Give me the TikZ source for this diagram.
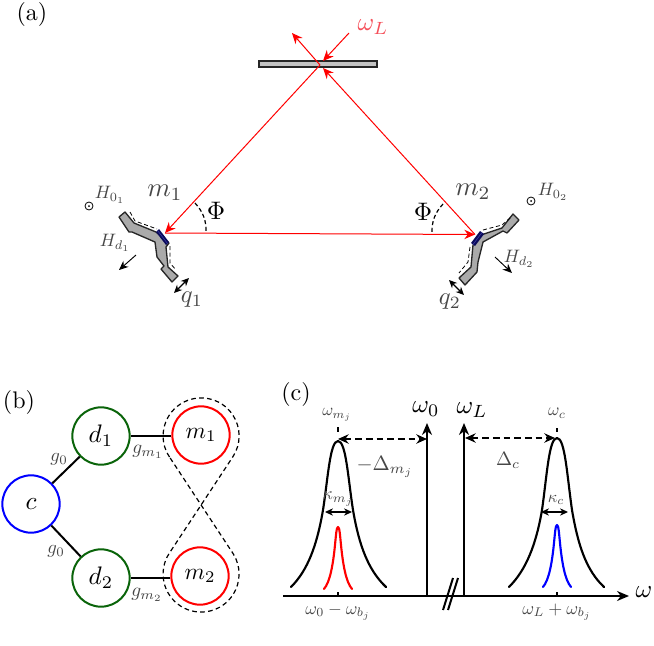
\documentclass[tikz,border=0pt]{standalone}
\usepackage{graphicx}
\usetikzlibrary{arrows.meta}
\definecolor{mgreen}{RGB}{10,100,10}
\definecolor{mnavy}{RGB}{10,10,90}
\definecolor{lblue}{RGB}{60,60,170}
\definecolor{lred}{RGB}{245,80,90}
\definecolor{mgrey}{RGB}{170,170,170}
\definecolor{barfill}{RGB}{195,195,195}
\tikzset{
  x=0.75pt,y=-0.75pt,
  lbl/.style={inner sep=0pt,outer sep=0pt,scale=#1},
  soft/.style={text=black!72},
  beam/.style={red,line width=0.75pt},
  beamtip/.style={-{Stealth[length=8pt,width=7pt]}},
  vertex/.style={circle,draw,line width=1.5pt,minimum size=43pt,inner sep=0pt},
  bond/.style={line width=1.5pt},
  mirrorbody/.style={fill=mgrey,draw=black!85,line width=1pt,line join=round},
  gluedash/.style={dashed,dash pattern=on 3pt off 2pt,line width=0.6pt},
  curve/.style={line width=1.6pt,line join=round,line cap=round},
  axisline/.style={line width=1.5pt},
  axistip/.style={-{Stealth[length=9pt,width=7.5pt]}},
  dbl/.style={{Stealth[length=6pt,width=5.5pt]}-{Stealth[length=6pt,width=5.5pt]},line width=0.8pt},
  thickdbl/.style={{Stealth[length=8pt,width=7pt]}-{Stealth[length=8pt,width=7pt]},line width=1.4pt,dash pattern=on 5pt off 3pt},
  thinarrow/.style={-{Stealth[length=7pt,width=6pt]},line width=0.7pt},
}
\begin{document}
\begin{tikzpicture}
\useasboundingbox (0,0) rectangle (654,646);
% ---------- panel (a)
\node[lbl=1.8] (tagA) at (32,15) {(a)};
\fill[barfill,draw=black!85,line width=0.9pt] (259,61) rectangle (377,67);
\coordinate (M) at (320,65);
\coordinate (L) at (165,233);
\coordinate (R) at (475,234.5);
\coordinate (Mtipin) at (323,61);
\coordinate (Inc) at (349,33);
\coordinate (Out) at (292,33);
\coordinate (Mr) at (323,68);
\draw[beam,beamtip] (M) -- (Out);
\draw[beam,beamtip] (Inc) -- (Mtipin);
\draw[beam,beamtip] (R) -- (Mr);
\draw[beam,beamtip] (M) -- (L);
\draw[beam,beamtip] (L) -- (R);
\node[lbl=1.9,text=lred] (wL) at (373,27) {$\omega_L$};
% left mirror
\draw[mirrorbody] (119,217) -- (125,212) -- (134,223) -- (156,232) -- (169,243) -- (166,247) -- (168,267) -- (178,276) -- (172,282) -- (161,269) -- (164,266) -- (157,257) -- (155,242) -- (132,232) -- (129,232) -- cycle;
\fill[mnavy] (156,232) -- (159,229) -- (169,242) -- (166,245) -- cycle;
\draw[lblue,line width=0.4pt] (157.5,230.5) -- (167.5,243.5);
\draw[gluedash] (130,212) -- (135,221) -- (157,229);
\draw[gluedash] (170,246) -- (170,263) -- (176,270);
% right mirror
\draw[mirrorbody] (459,278) -- (471,267) -- (473,245) -- (481,235) -- (502,228) -- (513,214) -- (519,220) -- (507,233) -- (503,231) -- (483,242) -- (478,262) -- (477,272) -- (465,285) -- cycle;
\fill[mnavy] (471,243) -- (480,231) -- (484,234) -- (475,246) -- cycle;
\draw[lblue,line width=0.4pt] (473,244.5) -- (482,232.5);
\draw[gluedash] (483,230) -- (502,225) -- (510,218);
\draw[gluedash] (470,247) -- (468,262) -- (459,273);
% angle marks
\draw[gluedash,line width=0.9pt] (195,203) to[bend left=22] (206,233);
\draw[gluedash,line width=0.9pt] (443,204) to[bend right=22] (432,234);
% small arrows
\coordinate (hda) at (136,255); \coordinate (hdb) at (119,270);
\coordinate (hdc) at (495,257); \coordinate (hdd) at (512,273);
\draw[thinarrow] (hda) -- (hdb);
\draw[thinarrow] (hdc) -- (hdd);
\coordinate (qa) at (189,278); \coordinate (qb) at (174,293);
\coordinate (qc) at (449,280); \coordinate (qd) at (464,295);
\draw[dbl] (qa) -- (qb);
\draw[dbl] (qc) -- (qd);
% dots
\node[circle,draw,line width=0.6pt,minimum size=6pt,inner sep=0pt] (odotA) at (89,206) {};
\fill (odotA.center) circle (1);
\node[circle,draw,line width=0.6pt,minimum size=6pt,inner sep=0pt] (odotB) at (531,201) {};
\fill (odotB.center) circle (1);
% labels
\node[lbl=2,soft] (lm1) at (165,193) {$m_1$};
\node[lbl=2,soft] (lm2) at (473,192) {$m_2$};
\node[lbl=1.9] (phiA) at (216,211) {$\Phi$};
\node[lbl=1.9] (phiB) at (423,212) {$\Phi$};
\node[lbl=1.35,soft] (h01) at (110,195) {$H_{0_1}$};
\node[lbl=1.35,soft] (h02) at (553,192) {$H_{0_2}$};
\node[lbl=1.35,soft] (hd1) at (115,243) {$H_{d_1}$};
\node[lbl=1.35,soft] (hd2) at (519,259) {$H_{d_2}$};
\node[lbl=1.85,soft] (q1) at (192,300) {$q_1$};
\node[lbl=1.85,soft] (q2) at (450,302) {$q_2$};
% ---------- panel (b)
\node[lbl=1.8] (tagB) at (19,402) {(b)};
\node[vertex,draw=blue] (c) at (31,504) {\scalebox{1.9}{$c$}};
\node[vertex,draw=mgreen] (d1) at (101,436) {\scalebox{1.9}{$d_1$}};
\node[vertex,draw=mgreen] (d2) at (101,578) {\scalebox{1.9}{$d_2$}};
\node[vertex,draw=red] (m1) at (201,435) {\scalebox{1.75}{$m_1$}};
\node[vertex,draw=red] (m2) at (200,576) {\scalebox{1.75}{$m_2$}};
\draw[bond] (c) -- (d1);
\draw[bond] (c) -- (d2);
\draw[bond] (d1.east) -- (m1.west |- d1.east);
\draw[bond] (d2.east) -- (m2.west |- d2.east);
\draw[dashed,line width=0.9pt,dash pattern=on 3.5pt off 2.5pt] (169.5,457) arc[start angle=146.3,end angle=393.7,radius=38] -- (169,553.7) arc[start angle=212.4,end angle=-32.4,radius=38] -- cycle;
\node[lbl=1.4,soft] (g1) at (59,459) {$g_0$};
\node[lbl=1.4,soft] (g2) at (56,551) {$g_0$};
\node[lbl=1.45,soft] (gm1) at (148,452) {$g_{m_1}$};
\node[lbl=1.45,soft] (gm2) at (147,595) {$g_{m_2}$};
% ---------- panel (c)
\node[lbl=1.8] (tagC) at (296,394) {(c)};
\coordinate (ax0) at (283,596);
\coordinate (ax1) at (629,596);
\coordinate (vaB) at (427,596); \coordinate (vaT) at (427,423);
\coordinate (vbB) at (464,596); \coordinate (vbT) at (464,423);
\draw[axisline,axistip] (ax0) -- (ax1);
\draw[axisline,axistip] (vaB) -- (vaT);
\draw[axisline,axistip] (vbB) -- (vbT);
\draw[axisline] (453,578) -- (443,610);
\draw[axisline] (458,578) -- (448,610);
% ticks
\draw[axisline] (338,427) -- (338,432);
\draw[axisline] (338,592) -- (338,596);
\draw[axisline] (557,428) -- (557,432);
\draw[axisline] (557,592) -- (557,596);
% peaks
\draw[curve] (291,587) .. controls (308,570) and (317,545) .. (323,510) .. controls (328,478) and (330,441) .. (338,441) .. controls (346,441) and (348,478) .. (353,510) .. controls (359,545) and (368,570) .. (386,587);
\draw[curve] (509,587) .. controls (526,570) and (536,545) .. (542,510) .. controls (547,475) and (549,438) .. (557,438) .. controls (565,438) and (567,475) .. (572,510) .. controls (578,545) and (586,570) .. (604,587);
\draw[curve,red] (324,589) .. controls (330,582) and (333,565) .. (335,545) .. controls (336,535) and (336.5,527) .. (338,527) .. controls (339.5,527) and (340,535) .. (341,545) .. controls (343,565) and (346,582) .. (352,589);
\draw[curve,blue] (543,587) .. controls (549,580) and (552,563) .. (554,543) .. controls (555,533) and (555.5,525) .. (557,525) .. controls (558.5,525) and (559,533) .. (560,543) .. controls (562,563) and (565,580) .. (571,587);
% dashed arrows
\coordinate (daL) at (338,439); \coordinate (daR) at (427,439);
\coordinate (dbL) at (465,438); \coordinate (dbR) at (555,438);
\draw[thickdbl] (daL) -- (daR);
\draw[thickdbl] (dbL) -- (dbR);
% kappa arrows
\coordinate (kaL) at (325,512); \coordinate (kaR) at (352,512);
\coordinate (kbL) at (541,512); \coordinate (kbR) at (568,512);
\draw[dbl] (kaL) -- (kaR);
\draw[dbl] (kbL) -- (kbR);
% labels
\node[lbl=1.25,soft] (wmj) at (337,415) {$\omega_{m_j}$};
\node[lbl=1.9] (w0) at (426,409) {$\omega_0$};
\node[lbl=1.9] (wLb) at (472,410) {$\omega_L$};
\node[lbl=1.3,soft] (wc) at (557,413) {$\omega_c$};
\node[lbl=1.55,soft] (dm) at (385,467) {$-\Delta_{m_j}$};
\node[lbl=1.45,soft] (dc) at (508,460) {$\Delta_c$};
\node[lbl=1.35,soft] (km) at (338,499) {$\kappa_{m_j}$};
\node[lbl=1.25,soft] (kc) at (556,500) {$\kappa_c$};
\node[lbl=1.33,soft] (b1) at (338,612) {$\omega_0-\omega_{b_j}$};
\node[lbl=1.35,soft] (b2) at (557,612) {$\omega_L+\omega_{b_j}$};
\node[lbl=1.9] (wax) at (644,592) {$\omega$};
\end{tikzpicture}
\end{document}
